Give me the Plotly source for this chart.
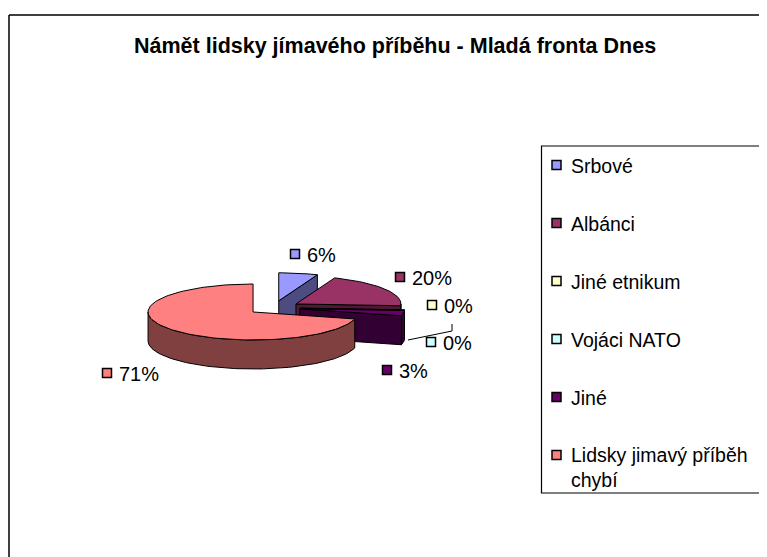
import math
import plotly.graph_objects as go

# ---------------- data ----------------
categories = ["Srbové", "Albánci", "Jiné etnikum", "Vojáci NATO", "Jiné",
              "Lidsky jimavý příběh chybí"]
values = [6, 20, 0, 0, 3, 71]          # percent, as shown by the labels
legend_labels = ["Srbové", "Albánci", "Jiné etnikum", "Vojáci NATO", "Jiné",
                 "Lidsky jimavý příběh<br>chybí"]
title_text = "Námět lidsky jímavého příběhu - Mladá fronta Dnes"

# ---------------- style ----------------
colors = ["#9999FF", "#993366", "#FFFFCC", "#CCFFFF", "#660066", "#FF8080"]
PAGE_W, PAGE_H = 767, 557
OFF = 8                    # default body margin of the html page
CX, CY = 273.8, 307.7      # pie centre (top face)
RX, RY = 105.0, 28.0       # ellipse radii of top face
DEPTH = 29.0               # thickness of the 3D pie
EXPLODE = 0.25             # explosion as fraction of radius
FONT = "Liberation Sans, Arial, sans-serif"
label_xy = [(295, 254), (400, 277), (432, 305), (431, 342), (387, 370), (107, 373)]
LEG_BOX = (541.5, 146, 763, 493)
LEG_MX, LEG_TX, LEG_Y0, LEG_DY = 556.5, 569, 165, 58


def darken(hex_color, f=0.5):
    h = hex_color.lstrip("#")
    r, g, b = (int(h[i:i + 2], 16) for i in (0, 2, 4))
    return "rgb(%d,%d,%d)" % (round(r * f), round(g * f), round(b * f))


def rim(cx, cy, ang, z=0.0):
    a = math.radians(ang)
    return cx + RX * math.sin(a), cy - RY * math.cos(a) + z


def arc(cx, cy, a0, a1, z=0.0, n=None):
    if n is None:
        n = max(2, int(abs(a1 - a0) / 2) + 2)
    return [rim(cx, cy, a0 + (a1 - a0) * k / (n - 1), z) for k in range(n)]


fig = go.Figure()


def poly(pts, fill, lw=1.0):
    xs = [p[0] for p in pts] + [pts[0][0]]
    ys = [p[1] for p in pts] + [pts[0][1]]
    fig.add_trace(go.Scatter(x=xs, y=ys, mode="lines", fill="toself",
                             fillcolor=fill, line=dict(color="black", width=lw),
                             hoverinfo="skip", showlegend=False))


total = sum(values)
slices = []
start = 0.0
for i, v in enumerate(values):
    span = 360.0 * v / total
    a0, a1 = start, start + span
    m = (a0 + a1) / 2
    tx = CX + EXPLODE * RX * math.sin(math.radians(m))
    ty = CY - EXPLODE * RY * math.cos(math.radians(m))
    slices.append(dict(i=i, a0=a0, a1=a1, tx=tx, ty=ty))
    start = a1

# painter's order: back (small y) to front
for s in sorted(slices, key=lambda s: s["ty"]):
    i, a0, a1, tx, ty = s["i"], s["a0"], s["a1"], s["tx"], s["ty"]
    col = colors[i]
    side = darken(col)
    if a1 - a0 <= 1e-9:
        p = rim(tx, ty, a0)
        fig.add_trace(go.Scatter(x=[tx, p[0]], y=[ty, p[1]], mode="lines",
                                 line=dict(color="black", width=1),
                                 hoverinfo="skip", showlegend=False))
        continue
    for ang, normal in ((a0, a0 - 90), (a1, a1 + 90)):
        if math.cos(math.radians(normal)) < -1e-6:
            p = rim(tx, ty, ang)
            poly([(tx, ty), p, (p[0], p[1] + DEPTH), (tx, ty + DEPTH)], side)
    w0, w1 = max(a0, 90.0), min(a1, 270.0)
    if w1 > w0:
        top = arc(tx, ty, w0, w1)
        bot = arc(tx, ty, w0, w1, DEPTH)
        poly(top + bot[::-1], side)
    poly([(tx, ty)] + arc(tx, ty, a0, a1), col)

# data labels
for i, v in enumerate(values):
    lx, ly = label_xy[i]
    fig.add_trace(go.Scatter(x=[lx], y=[ly], mode="markers",
                             marker=dict(symbol="square", size=9, color=colors[i],
                                         line=dict(color="black", width=1.5)),
                             hoverinfo="skip", showlegend=False))
    fig.add_annotation(x=lx + 10, y=ly + 1, xref="x", yref="y",
                       text="%d%%" % round(100.0 * v / total), showarrow=False,
                       xanchor="left", yanchor="middle",
                       font=dict(family=FONT, size=20, color="black"))

# leader line for the second 0 % label
fig.add_shape(type="path", xref="x", yref="y",
              path="M 408 340 L 452 331 L 452 324",
              line=dict(color="black", width=1))

# legend (manual, Excel style)
bx0, by0, bx1, by1 = LEG_BOX
fig.add_shape(type="rect", xref="x", yref="y", x0=bx0, y0=by0, x1=bx1, y1=by1,
              line=dict(color="black", width=1.2), fillcolor="rgba(0,0,0,0)")
leg_y = [LEG_Y0 + LEG_DY * k for k in range(len(categories))]
fig.add_trace(go.Scatter(x=[LEG_MX] * len(categories), y=leg_y, mode="markers",
                         marker=dict(symbol="square", size=9, color=colors,
                                     line=dict(color="black", width=1.5)),
                         hoverinfo="skip", showlegend=False))
for k, lab in enumerate(legend_labels):
    multi = "<br>" in lab
    fig.add_annotation(x=LEG_TX, y=leg_y[k] - 13 if multi else leg_y[k] + 1,
                       xref="x", yref="y", text=lab, showarrow=False,
                       xanchor="left", yanchor="top" if multi else "middle",
                       align="left",
                       font=dict(family=FONT, size=19.5, color="black"))

# title
fig.add_annotation(x=395, y=46, xref="x", yref="y", text="<b>%s</b>" % title_text,
                   showarrow=False, xanchor="center", yanchor="middle",
                   font=dict(family=FONT, size=21.5, color="black"))

# chart-area border (top & left visible)
fig.add_shape(type="line", xref="x", yref="y", x0=9, y0=15, x1=PAGE_W, y1=15,
              line=dict(color="black", width=1.5))
fig.add_shape(type="line", xref="x", yref="y", x0=9, y0=15, x1=9, y1=PAGE_H,
              line=dict(color="black", width=1.5))

# the figure sits at (OFF, OFF) in the page; axis units == page pixels
fig.update_layout(
    width=PAGE_W - OFF, height=PAGE_H - OFF, autosize=False,
    margin=dict(l=0, r=0, t=0, b=0),
    paper_bgcolor="white", plot_bgcolor="white",
    xaxis=dict(range=[OFF, PAGE_W], visible=False, fixedrange=True, domain=[0, 1]),
    yaxis=dict(range=[PAGE_H, OFF], visible=False, fixedrange=True, domain=[0, 1]),
    showlegend=False,
)

fig.write_html("out.html")
